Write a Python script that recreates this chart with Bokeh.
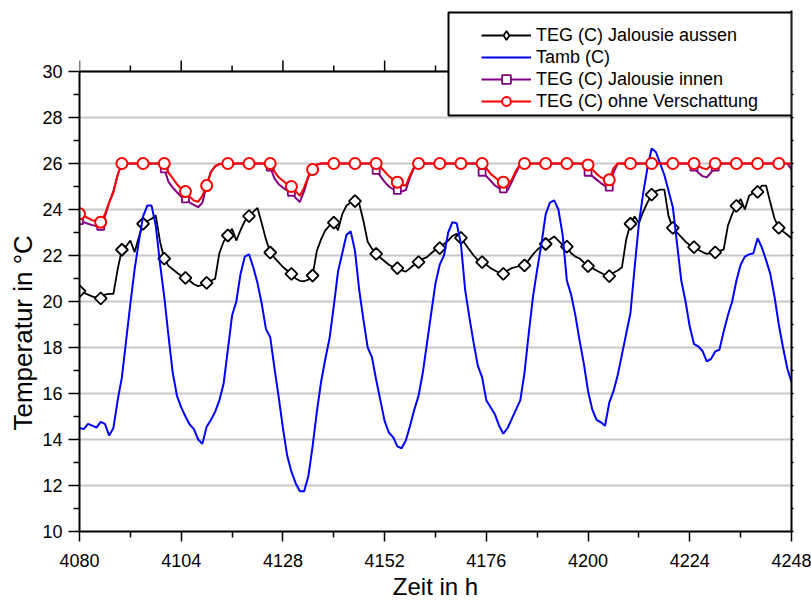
import numpy as np
from bokeh.plotting import figure
from bokeh.models import (ColumnDataSource, LinearAxis, FixedTicker, Legend, LegendItem,
                          BoxAnnotation, Range1d, Span, CustomJSTickFormatter, Title)
from bokeh.embed import file_html
from bokeh.resources import INLINE

FONT = "Liberation Sans"

# ---------------- data (hourly) ----------------
hours = list(range(4080, 4249))

tamb = [
    14.5, 14.45, 14.68, 14.6, 14.52, 14.77, 14.68, 14.17, 14.5, 15.7,
    16.7, 18.3, 19.9, 21.4, 22.6, 23.7, 24.17, 24.17, 23.3, 21.64,
    20.2, 18.5, 16.9, 15.9, 15.4, 15.0, 14.65, 14.45, 14.0, 13.81,
    14.55, 14.85, 15.2, 15.7, 16.42, 17.9, 19.39, 20.0, 21.2, 21.95,
    22.05, 21.49, 20.8, 19.9, 18.8, 18.45, 17.1, 15.84, 14.5, 13.3,
    12.6, 12.1, 11.75, 11.75, 12.4, 13.7, 15.2, 16.5, 17.5, 18.4,
    19.8, 21.3, 22.1, 22.9, 23.05, 22.2, 20.5, 19.2, 18.0, 17.58,
    16.6, 15.7, 14.8, 14.3, 14.1, 13.7, 13.62, 13.96, 14.6, 15.3,
    15.9, 16.9, 18.2, 19.5, 20.8, 21.6, 22.0, 23.0, 23.45, 23.4,
    22.5, 20.5, 19.3, 18.2, 17.2, 16.7, 15.7, 15.4, 15.1, 14.6,
    14.25, 14.5, 14.9, 15.3, 15.7, 16.9, 18.6, 20.2, 21.4, 22.5,
    23.8, 24.3, 24.4, 24.0, 22.9, 20.9, 20.3, 19.4, 18.3, 17.3,
    16.1, 15.3, 14.85, 14.75, 14.6, 15.6, 16.1, 16.8, 17.7, 18.6,
    19.5, 21.5, 23.4, 24.7, 25.8, 26.65, 26.5, 26.0, 25.5, 24.8,
    24.1, 22.5, 20.9, 20.0, 18.9, 18.15, 18.05, 17.85, 17.4, 17.5,
    17.83, 17.9, 18.7, 19.4, 20.0, 20.9, 21.6, 21.95, 22.05, 22.1,
    22.75, 22.35, 21.8, 21.2, 20.2, 19.0, 18.0, 17.1, 16.5,
]

teg_aussen = [
    20.45, 20.38, 20.3, 20.22, 20.16, 20.14, 20.3, 20.33, 20.33, 21.4,
    22.25, 22.4, 22.65, 22.14, 22.8, 23.38, 23.5, 23.6, 23.74, 22.6,
    21.86, 21.55, 21.4, 21.25, 21.12, 21.03, 20.9, 20.75, 20.67, 20.72,
    20.81, 20.9, 20.99, 22.1, 22.6, 22.87, 23.16, 22.65, 23.1, 23.5,
    23.71, 23.9, 24.07, 23.4, 22.7, 22.13, 21.9, 21.7, 21.5, 21.35,
    21.2, 21.0, 20.9, 20.88, 20.95, 21.13, 22.2, 22.7, 23.09, 23.3,
    23.43, 23.1, 23.8, 24.17, 24.3, 24.36, 24.25, 23.5, 22.6, 22.3,
    22.07, 21.9, 21.75, 21.6, 21.5, 21.45, 21.35, 21.3, 21.45, 21.6,
    21.71, 21.85, 21.93, 22.1, 22.25, 22.32, 22.5, 22.65, 22.85, 22.94,
    22.77, 22.5, 22.25, 22.0, 21.8, 21.71, 21.6, 21.45, 21.35, 21.25,
    21.2, 21.35, 21.45, 21.5, 21.55, 21.57, 21.8, 22.05, 22.25, 22.4,
    22.5, 22.7, 22.83, 22.65, 22.45, 22.39, 22.1, 21.95, 21.87, 21.7,
    21.54, 21.45, 21.35, 21.25, 21.15, 21.1, 21.25, 21.35, 21.49, 22.7,
    23.38, 23.7, 23.4, 23.9, 24.3, 24.65, 24.8, 24.86, 24.86, 23.7,
    23.2, 23.0, 22.8, 22.6, 22.45, 22.36, 22.25, 22.15, 22.07, 22.1,
    22.14, 22.2, 22.26, 23.3, 23.8, 24.16, 24.46, 24.0, 24.6, 24.72,
    24.77, 25.04, 25.04, 24.3, 23.6, 23.2, 23.05, 22.9, 22.75,
]

teg_innen = [
    23.52, 23.45, 23.38, 23.32, 23.28, 23.27, 23.7, 24.3, 24.8, 25.5,
    26.0, 26.0, 26.0, 26.0, 26.0, 26.0, 26.0, 26.0, 26.0, 26.0,
    25.77, 25.2, 24.95, 24.75, 24.55, 24.46, 24.3, 24.2, 24.1, 24.3,
    25.04, 25.65, 25.88, 25.97, 26.0, 26.0, 26.0, 26.0, 26.0, 26.0,
    26.0, 26.0, 26.0, 26.0, 26.0, 25.84, 25.35, 25.1, 24.95, 24.82,
    24.75, 24.5, 24.33, 24.8, 25.4, 25.7, 25.95, 26.0, 26.0, 26.0,
    26.0, 26.0, 26.0, 26.0, 26.0, 26.0, 26.0, 26.0, 26.0, 26.0,
    25.7, 25.45, 25.2, 25.0, 24.88, 24.83, 24.78, 24.85, 25.4, 25.85,
    26.0, 26.0, 26.0, 26.0, 26.0, 26.0, 26.0, 26.0, 26.0, 26.0,
    26.0, 26.0, 26.0, 26.0, 26.0, 25.62, 25.45, 25.25, 25.05, 24.93,
    24.9, 24.83, 25.2, 25.6, 25.95, 26.0, 26.0, 26.0, 26.0, 26.0,
    26.0, 26.0, 26.0, 26.0, 26.0, 26.0, 26.0, 26.0, 26.0, 26.0,
    25.62, 25.45, 25.3, 25.15, 25.03, 24.97, 25.6, 26.0, 26.0, 26.0,
    26.0, 26.0, 26.0, 26.0, 26.0, 26.0, 26.0, 26.0, 26.0, 26.0,
    26.0, 26.0, 26.0, 26.0, 26.0, 25.84, 25.6, 25.45, 25.4, 25.6,
    25.84, 26.0, 26.0, 26.0, 26.0, 26.0, 26.0, 26.0, 26.0, 26.0,
    26.0, 26.0, 26.0, 26.0, 26.0, 26.0, 26.0, 26.0, 25.75,
]

teg_ohne = [
    23.81, 23.72, 23.63, 23.54, 23.48, 23.45, 23.8, 24.3, 24.75, 25.5,
    26.0, 26.0, 26.0, 26.0, 26.0, 26.0, 26.0, 26.0, 26.0, 26.0,
    26.0, 25.6, 25.35, 25.1, 24.9, 24.78, 24.55, 24.39, 24.33, 24.6,
    25.04, 25.62, 25.88, 25.97, 26.0, 26.0, 26.0, 26.0, 26.0, 26.0,
    26.0, 26.0, 26.0, 26.0, 26.0, 26.0, 25.65, 25.4, 25.25, 25.1,
    25.0, 24.8, 24.6, 24.95, 25.45, 25.74, 25.95, 26.0, 26.0, 26.0,
    26.0, 26.0, 26.0, 26.0, 26.0, 26.0, 26.0, 26.0, 26.0, 26.0,
    26.0, 25.85, 25.65, 25.45, 25.3, 25.19, 25.07, 25.04, 25.5, 25.85,
    26.0, 26.0, 26.0, 26.0, 26.0, 26.0, 26.0, 26.0, 26.0, 26.0,
    26.0, 26.0, 26.0, 26.0, 26.0, 26.0, 25.8, 25.55, 25.4, 25.25,
    25.19, 25.1, 25.3, 25.7, 25.95, 26.0, 26.0, 26.0, 26.0, 26.0,
    26.0, 26.0, 26.0, 26.0, 26.0, 26.0, 26.0, 26.0, 26.0, 25.97,
    25.94, 25.75, 25.55, 25.4, 25.32, 25.29, 25.8, 26.0, 26.0, 26.0,
    26.0, 26.0, 26.0, 26.0, 26.0, 26.0, 26.0, 26.0, 26.0, 26.0,
    26.0, 26.0, 26.0, 26.0, 26.0, 26.0, 25.9, 25.8, 25.75, 25.9,
    26.0, 26.0, 26.0, 26.0, 26.0, 26.0, 26.0, 26.0, 26.0, 26.0,
    26.0, 26.0, 26.0, 26.0, 26.0, 26.0, 26.0, 26.0, 26.0,
]

marker_step = 5
series_labels = ["TEG (C) Jalousie aussen", "Tamb (C)",
                 "TEG (C) Jalousie innen", "TEG (C) ohne Verschattung"]
x_label = "Zeit in h"
y_label = "Temperatur in °C"

x_start, x_end = 4080, 4248
y_start, y_end = 10, 30
x_major_ticks = list(range(4080, 4249, 24))
x_minor_ticks = list(range(4092, 4249, 24))
y_major_ticks = list(range(10, 31, 2))
y_minor_ticks = list(range(11, 30, 2))

# ---------------- layout (pixels) ----------------
W, H = 811, 603
FRAME_L, FRAME_R, FRAME_T, FRAME_B = 79, 791, 10, 531
PX_PER_DEG = 23.0
y_top = y_end + (71 - FRAME_T) / PX_PER_DEG  # room above y=30 for the legend

p = figure(width=W, height=H,
           x_range=Range1d(x_start, x_end), y_range=Range1d(y_start, y_top),
           output_backend="svg", toolbar_location=None,
           min_border_left=FRAME_L, min_border_right=W - FRAME_R,
           min_border_top=FRAME_T, min_border_bottom=H - FRAME_B,
           x_axis_label=x_label)
p.outline_line_color = None
p.background_fill_color = "white"
p.border_fill_color = "white"

xticker = FixedTicker(ticks=x_major_ticks, minor_ticks=x_minor_ticks)
yticker = FixedTicker(ticks=y_major_ticks, minor_ticks=y_minor_ticks)


def style_axis(ax, ticker, tick_major, tick_minor):
    ax.ticker = ticker
    ax.axis_line_width = 2
    ax.axis_line_color = "black"
    ax.major_tick_line_width = 1.5
    ax.minor_tick_line_width = 1.5
    ax.major_tick_line_color = "black"
    ax.minor_tick_line_color = "black"
    ax.major_tick_out = tick_major
    ax.major_tick_in = 0
    ax.minor_tick_out = tick_minor
    ax.minor_tick_in = 0
    ax.major_label_text_font = FONT
    ax.major_label_text_font_size = "18px"
    ax.major_label_text_color = "black"
    ax.axis_label_text_font = FONT
    ax.axis_label_text_font_style = "normal"
    ax.axis_label_text_color = "black"


xa = p.xaxis[0]
ya = p.yaxis[0]
style_axis(xa, xticker, 10, 6)
style_axis(ya, yticker, 11, 6)
xa.bounds = (x_start, x_end)
ya.bounds = (y_start, y_end)
xa.major_label_standoff = 12
xa.axis_label_standoff = 3
xa.axis_label_text_font_size = "24px"
ya.major_label_standoff = 6

# y-axis title, placed along the axis like the original
ytitle = Title(text=y_label, align="left", offset=101, standoff=4,
               text_font=FONT, text_font_size="26px", text_font_style="normal",
               text_color="black")
p.add_layout(ytitle, "left")

right_axis = LinearAxis()
style_axis(right_axis, yticker, 2, 2)
right_axis.bounds = (y_start, y_top)
right_axis.formatter = CustomJSTickFormatter(code="return ''")
right_axis.major_label_standoff = 0
p.add_layout(right_axis, "right")

p.xgrid.visible = False
p.ygrid.ticker = yticker
p.ygrid.grid_line_color = "#c8c8c8"
p.ygrid.grid_line_width = 2

# top frame line and its ticks at y = 30
top_line = Span(location=y_end, dimension="width", line_color="black", line_width=2)
p.add_layout(top_line)
p.ray(x=x_major_ticks, y=[y_end] * len(x_major_ticks), length=11, length_units="screen",
      angle=np.pi / 2, line_color="black", line_width=1.5)
p.ray(x=x_minor_ticks, y=[y_end] * len(x_minor_ticks), length=6, length_units="screen",
      angle=np.pi / 2, line_color="black", line_width=1.5)

src = ColumnDataSource(dict(h=hours, tamb=tamb, aus=teg_aussen, inn=teg_innen, ohne=teg_ohne))
msrc = ColumnDataSource(dict(h=hours[::marker_step], aus=teg_aussen[::marker_step],
                             inn=teg_innen[::marker_step], ohne=teg_ohne[::marker_step]))

l_black = p.line("h", "aus", source=src, line_color="black", line_width=1.8)
# diamond used for the legend symbol; covered in the plot by the rotated squares
d_black = p.scatter("h", "aus", source=msrc, marker="diamond", size=9,
                    line_color="black", line_width=1.8, fill_color="white")
s_black = p.scatter("h", "aus", source=msrc, marker="square", angle=np.pi / 4, size=8.5,
                    line_color="black", line_width=1.8, fill_color="white")
l_blue = p.line("h", "tamb", source=src, line_color="#0000ff", line_width=2)
l_purple = p.line("h", "inn", source=src, line_color="#800080", line_width=2)
s_purple = p.scatter("h", "inn", source=msrc, marker="square", size=7,
                     line_color="#800080", line_width=1.8, fill_color="white")
l_red = p.line("h", "ohne", source=src, line_color="#ff0000", line_width=2)
s_red = p.scatter("h", "ohne", source=msrc, marker="circle", size=11,
                  line_color="#ff0000", line_width=2, fill_color="white")

# legend box (canvas pixel coordinates)
box = BoxAnnotation(left=448, right=791, top=12, bottom=115,
                    left_units="canvas", right_units="canvas",
                    top_units="canvas", bottom_units="canvas",
                    fill_color="white", fill_alpha=1.0,
                    line_color="black", line_width=2, line_alpha=1.0)
p.add_layout(box)

legend = Legend(items=[
    LegendItem(label=series_labels[0], renderers=[l_black, d_black]),
    LegendItem(label=series_labels[1], renderers=[l_blue]),
    LegendItem(label=series_labels[2], renderers=[l_purple, s_purple]),
    LegendItem(label=series_labels[3], renderers=[l_red, s_red]),
], location=(481 - FRAME_L, FRAME_B - 112), margin=0, padding=0, spacing=0,
    glyph_width=50, glyph_height=22, label_standoff=5, label_height=20,
    label_text_font=FONT, label_text_font_size="18px", label_text_color="black",
    border_line_color=None, background_fill_alpha=0.0)
p.add_layout(legend, "center")

open("out.html", "w").write(file_html(p, INLINE))
